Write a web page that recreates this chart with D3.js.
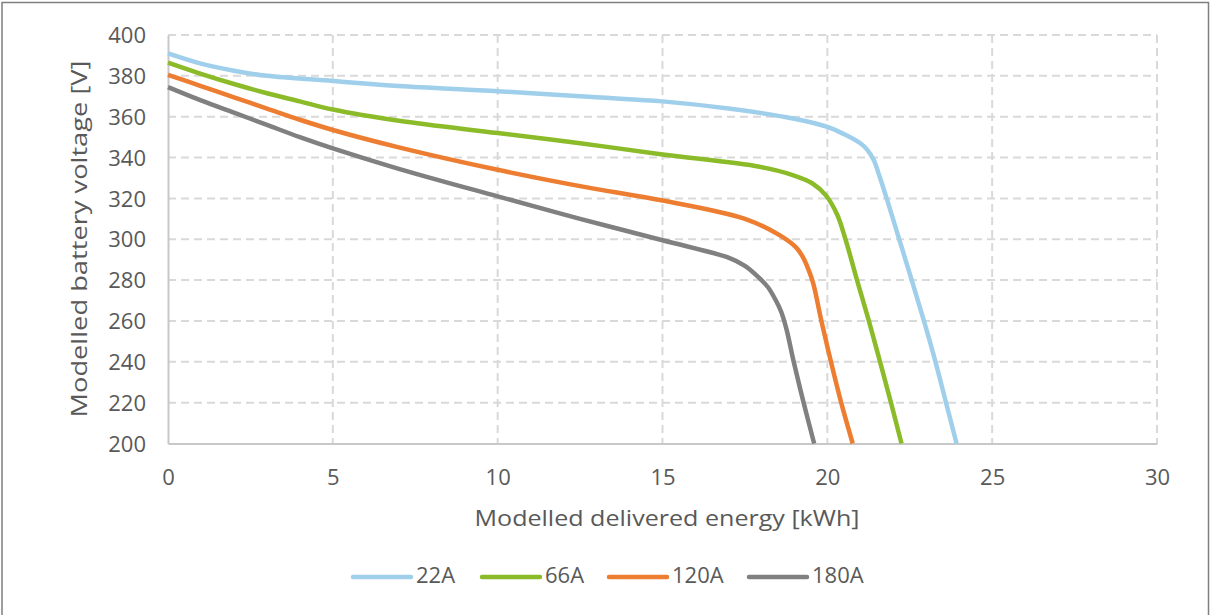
<!DOCTYPE html>
<html>
<head>
<meta charset="utf-8">
<script src="https://cdn.jsdelivr.net/npm/d3@7"></script>
<style>
  body { margin: 0; background: #fff; }
  text { font-family: "Open Sans", sans-serif; fill: #595959; }
</style>
</head>
<body>
<svg id="chart" width="1210" height="615"></svg>
<script>
// series: delivered energy [kWh] and voltage [V]
var seriesNames = ["22A", "66A", "120A", "180A"];
var seriesColors = ["#9fcfea", "#8cbb2a", "#ed7d31", "#808080"];

var e22 = [0, 1, 2, 3, 5, 7, 10, 13, 15, 17, 19, 20, 20.5, 21, 21.2, 21.4, 21.6, 21.8, 22.18, 22.56, 22.93, 23.28, 23.6, 23.92];
var v22 = [391, 386, 382.5, 380, 377.5, 375, 372.5, 369.5, 367.5, 364, 359, 355, 351.5, 347, 344, 339, 330, 320, 300, 280, 260, 240, 220, 200];

var e66 = [0, 1, 2, 3, 4, 5, 7, 10, 12.5, 15, 17.94, 18.95, 19.55, 19.95, 20.3, 20.55, 20.9, 21.26, 21.6, 21.93, 22.25];
var v66 = [386.5, 381, 376, 371.5, 367.5, 363.5, 358, 352, 347, 341.5, 335.5, 331.4, 327.3, 321.6, 312, 300, 280, 260, 240, 220, 200];

var e120 = [0, 1, 2, 3, 4, 5, 7, 10, 12.5, 15, 17.5, 18.55, 19.05, 19.25, 19.42, 19.57, 19.82, 20.11, 20.42, 20.77];
var v120 = [380.5, 375, 369.5, 364, 358.5, 353.5, 345, 334, 326, 319, 310, 302, 296, 291.5, 285.5, 278.5, 260, 240, 220, 200];

var e180 = [0, 1, 2, 3, 4, 5, 7, 10, 12.5, 15, 17, 17.5, 17.94, 18.2, 18.44, 18.6, 18.76, 18.98, 19.28, 19.6];
var v180 = [374.5, 368, 362, 356, 350, 344.5, 334.5, 321, 310, 299.5, 291, 287, 281, 276.5, 270, 264.5, 256, 240, 220, 200];

var xTicks = [0, 5, 10, 15, 20, 25, 30];
var yTicks = [200, 220, 240, 260, 280, 300, 320, 340, 360, 380, 400];

var energies = [e22, e66, e120, e180];
var voltages = [v22, v66, v120, v180];
var series = seriesNames.map(function(n, i){
  return { name: n, color: seriesColors[i],
           pts: energies[i].map(function(e, j){ return [e, voltages[i][j]]; }) };
});

var svg = d3.select("#chart");
var pLeft = 168, pRight = 1157, pTop = 35, pBottom = 443.5;

var x = d3.scaleLinear().domain([0, 30]).range([pLeft, pRight]);
var y = d3.scaleLinear().domain([200, 400]).range([pBottom, pTop]);

// outer border
svg.append("rect").attr("x", 2).attr("y", 2.5).attr("width", 1206.5).attr("height", 620)
   .style("fill", "none").style("stroke", "#7f7f7f").style("stroke-width", 1.5);

// gridlines
svg.append("g").selectAll("line").data(yTicks.filter(function(d){ return d > 200; })).enter()
   .append("line")
   .attr("x1", pLeft).attr("x2", pRight)
   .attr("y1", function(d){ return y(d); }).attr("y2", function(d){ return y(d); })
   .style("stroke", "#d9d9d9").style("stroke-width", 2).style("stroke-dasharray", "8,5");

svg.append("g").selectAll("line").data(xTicks.filter(function(d){ return d > 0; })).enter()
   .append("line")
   .attr("y1", pTop).attr("y2", pBottom)
   .attr("x1", function(d){ return x(d); }).attr("x2", function(d){ return x(d); })
   .style("stroke", "#d9d9d9").style("stroke-width", 2).style("stroke-dasharray", "8,5");

// axes
var xAxis = svg.append("g").attr("transform", "translate(0," + pBottom + ")")
   .call(d3.axisBottom(x).tickValues(xTicks).tickSize(0).tickPadding(23));
var yAxis = svg.append("g").attr("transform", "translate(" + pLeft + ",0)")
   .call(d3.axisLeft(y).tickValues(yTicks).tickSize(0).tickPadding(22));
[xAxis, yAxis].forEach(function(a){
  a.select(".domain").style("stroke", "#c8c8c8").style("stroke-width", 2);
  a.selectAll("text").style("font-size", "22px").style("fill", "#595959")
   .style("font-family", "\"Open Sans\", sans-serif");
});
yAxis.selectAll("text").attr("dy", "0.35em");
xAxis.selectAll("text").attr("dy", "0.35em").attr("y", 34);

// lines
var line = d3.line()
   .x(function(d){ return x(d[0]); })
   .y(function(d){ return y(d[1]); })
   .curve(d3.curveCatmullRom.alpha(0.5));

svg.append("g").selectAll("path").data(series).enter()
   .append("path")
   .attr("d", function(d){ return line(d.pts); })
   .style("fill", "none")
   .style("stroke", function(d){ return d.color; })
   .style("stroke-width", 4.5)
   .style("stroke-linejoin", "round");

// axis titles
svg.append("text").attr("x", 667).attr("y", 520).attr("text-anchor", "middle")
   .attr("dominant-baseline", "middle")
   .attr("textLength", 385).attr("lengthAdjust", "spacingAndGlyphs")
   .style("font-size", "22px").text("Modelled delivered energy [kWh]");
svg.append("text").attr("transform", "translate(81,239) rotate(-90)").attr("text-anchor", "middle")
   .attr("dominant-baseline", "middle")
   .attr("textLength", 357).attr("lengthAdjust", "spacingAndGlyphs")
   .style("font-size", "22px").text("Modelled battery voltage [V]");

// legend
var legX = [353, 482, 609, 749];
var leg = svg.append("g").selectAll("g").data(series).enter()
   .append("g").attr("transform", function(d, i){ return "translate(" + legX[i] + ",577)"; });
leg.append("line").attr("x1", 0).attr("x2", 58).attr("y1", 0).attr("y2", 0)
   .style("stroke", function(d){ return d.color; }).style("stroke-width", 4.5)
   .style("stroke-linecap", "round");
leg.append("text").attr("x", 63).attr("y", 0).attr("dominant-baseline", "middle")
   .style("font-size", "22px").text(function(d){ return d.name; });
</script>
</body>
</html>
